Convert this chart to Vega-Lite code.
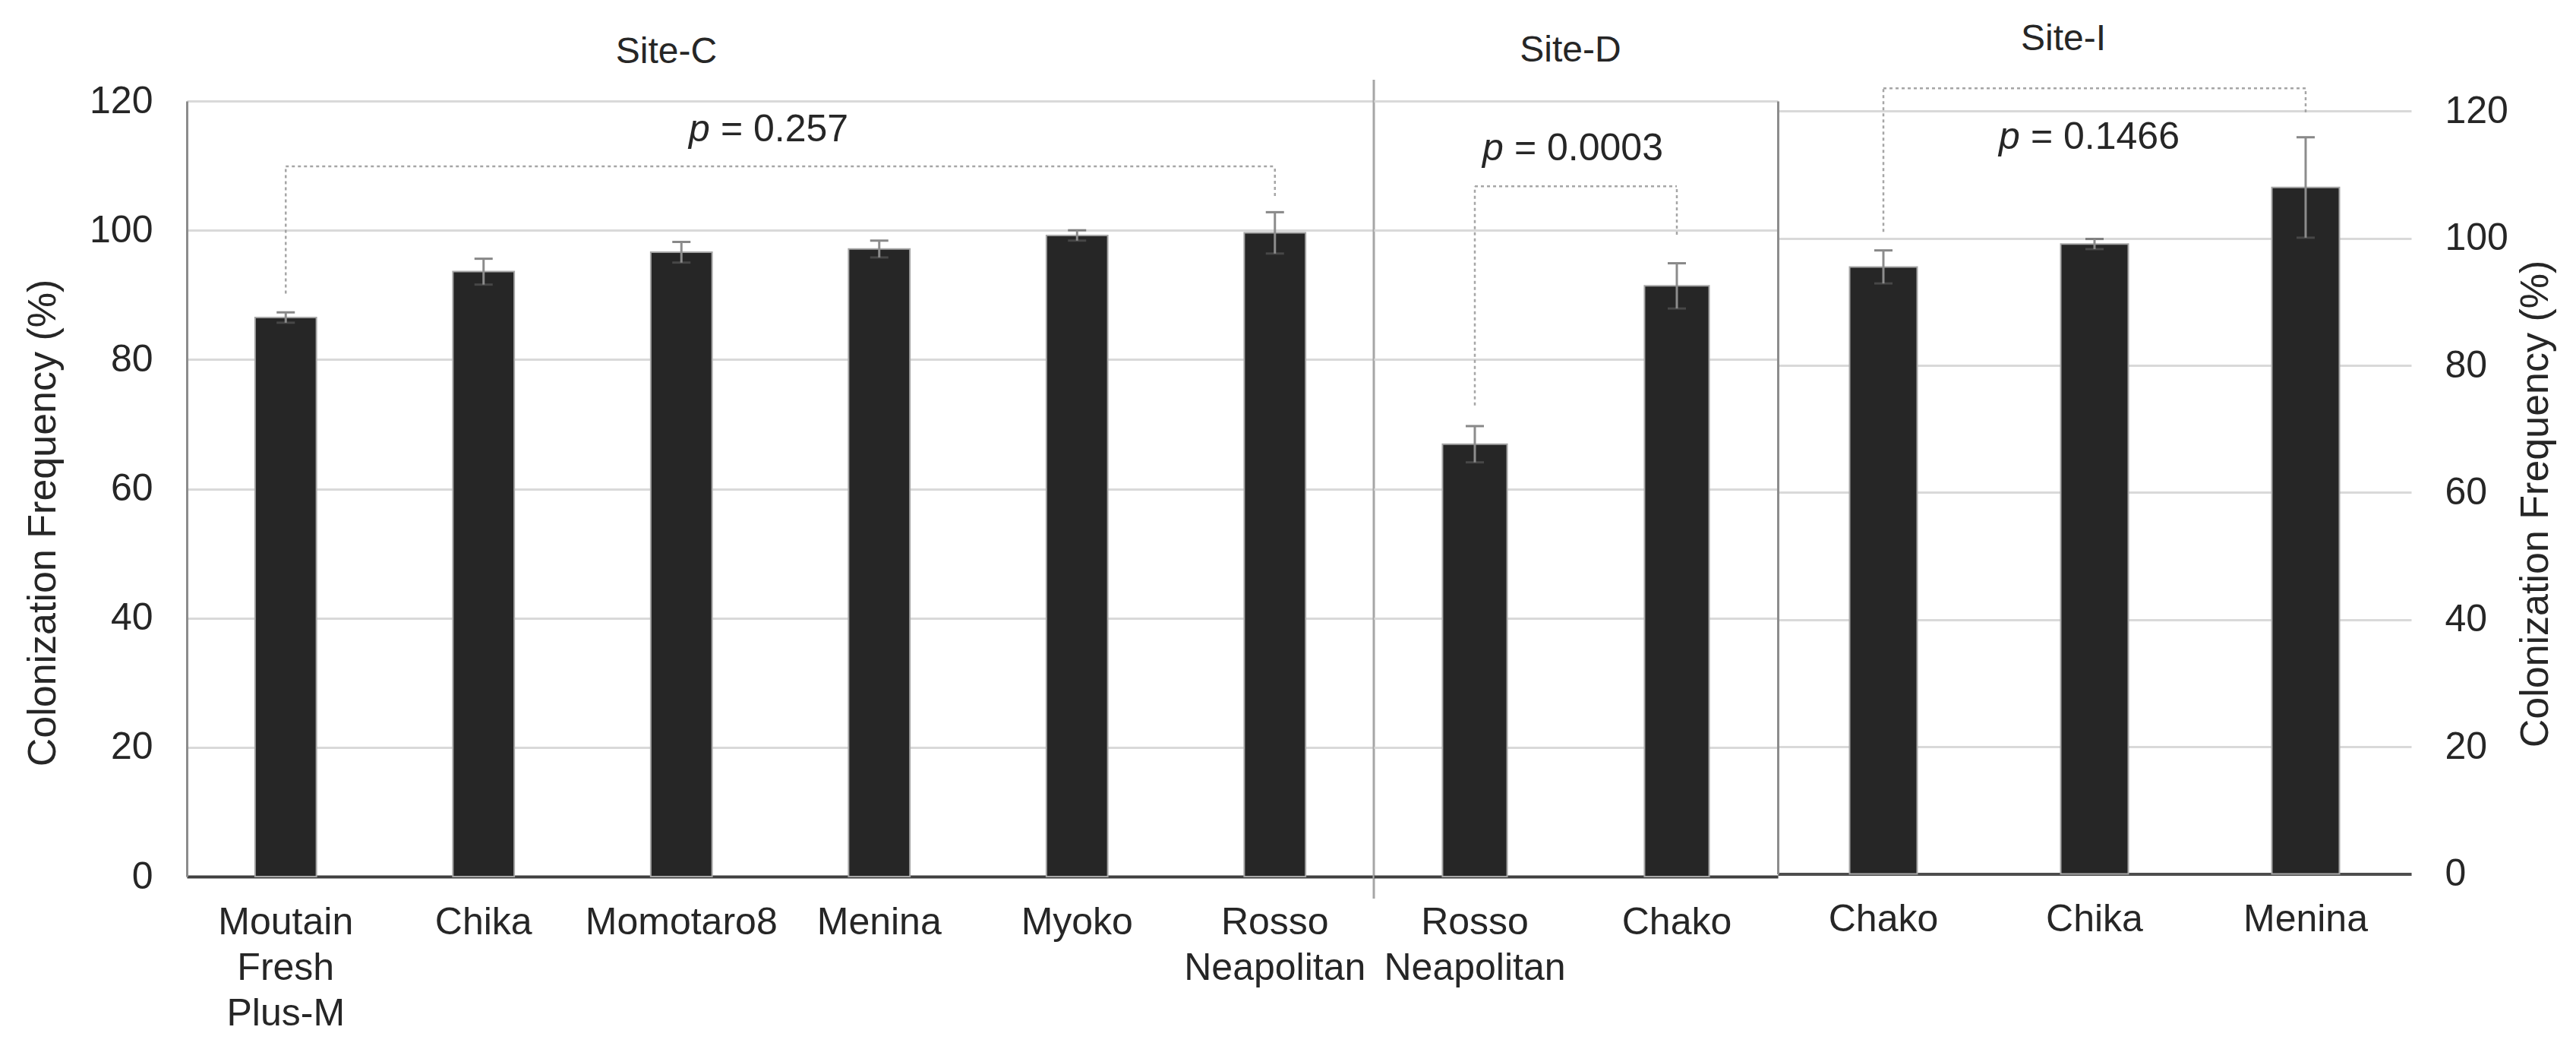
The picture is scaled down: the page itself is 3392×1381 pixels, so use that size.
{
  "$schema": "https://vega.github.io/schema/vega-lite/v6.json",
  "padding": {"left": 30, "top": 28, "right": 10, "bottom": 10},
  "background": "white",
  "datasets": {
    "siteC": [
      {"cultivar": "Moutain Fresh Plus-M", "mean": 86.5, "sd": 0.8},
      {"cultivar": "Chika", "mean": 93.6, "sd": 2.0},
      {"cultivar": "Momotaro8", "mean": 96.6, "sd": 1.6},
      {"cultivar": "Menina", "mean": 97.1, "sd": 1.3},
      {"cultivar": "Myoko", "mean": 99.2, "sd": 0.8},
      {"cultivar": "Rosso Neapolitan", "mean": 99.6, "sd": 3.2}
    ],
    "siteD": [
      {"cultivar": "Rosso Neapolitan", "mean": 66.9, "sd": 2.8},
      {"cultivar": "Chako", "mean": 91.4, "sd": 3.5}
    ],
    "siteI": [
      {"cultivar": "Chako", "mean": 95.5, "sd": 2.6},
      {"cultivar": "Chika", "mean": 99.1, "sd": 0.8},
      {"cultivar": "Menina", "mean": 108.0, "sd": 7.9}
    ]
  },
  "hconcat": [
    {
      "width": 1563,
      "height": 1021,
      "title": {"text": "Site-C", "dx": -150, "offset": -28, "baseline": "alphabetic", "fontSize": 48, "fontWeight": "normal", "color": "#262626", "font": "Liberation Sans"},
      "data": {"name": "siteC"},
      "layer": [
        {
          "mark": {"type": "bar", "color": "#262626", "stroke": "#a6a6a6", "strokeWidth": 2},
          "encoding": {
            "x": {"field": "cultivar", "type": "nominal", "sort": null,
              "scale": {"domain": ["Moutain Fresh Plus-M", "Chika", "Momotaro8", "Menina", "Myoko", "Rosso Neapolitan"], "paddingInner": 0.69, "paddingOuter": 0.345},
              "axis": {"title": null, "labelAngle": 0, "labelFontSize": 50, "labelFont": "Liberation Sans", "labelColor": "#262626", "labelPadding": 35, "labelLineHeight": 60, "labelLimit": 600, "ticks": false, "domainColor": "#404040", "domainWidth": 4, "labelExpr": "split(datum.value, ' ')"}},
            "y": {"field": "mean", "type": "quantitative", "title": "Colonization  Frequency (%)",
              "scale": {"domain": [0, 120], "nice": false},
              "axis": {"values": [0, 20, 40, 60, 80, 100, 120], "labelFontSize": 50, "labelFont": "Liberation Sans", "labelColor": "#262626", "labelPadding": 45, "ticks": false, "domainColor": "#8c8c8c", "domainWidth": 3, "gridColor": "#d9d9d9", "gridWidth": 3, "titleFontSize": 52, "titleFont": "Liberation Sans", "titleFontWeight": "normal", "titleColor": "#262626", "titleX": -190, "titleY": 555, "titleAngle": 270, "titleAlign": "center", "titleBaseline": "middle"}}
          }
        },
        {
          "mark": {"type": "errorbar", "ticks": {"size": 24, "thickness": 3, "color": "#555555"}, "rule": {"strokeWidth": 3, "color": "#8c8c8c"}},
          "encoding": {
            "x": {"field": "cultivar", "type": "nominal", "sort": null},
            "y": {"field": "mean", "type": "quantitative", "title": "Colonization  Frequency (%)"},
            "yError": {"field": "sd"}
          }
        },
        {
          "data": {"values": [{}]},
          "mark": {"type": "rule", "strokeDash": [4, 4], "color": "#a6a6a6", "strokeWidth": 2.5},
          "encoding": {"x": {"datum": "Moutain Fresh Plus-M", "type": "nominal"}, "y": {"datum": 90.2, "type": "quantitative"}, "y2": {"datum": 109.9}}
        },
        {
          "data": {"values": [{}]},
          "mark": {"type": "rule", "strokeDash": [4, 4], "color": "#a6a6a6", "strokeWidth": 2.5},
          "encoding": {"x": {"datum": "Moutain Fresh Plus-M", "type": "nominal"}, "x2": {"datum": "Rosso Neapolitan"}, "y": {"datum": 109.9, "type": "quantitative"}}
        },
        {
          "data": {"values": [{}]},
          "mark": {"type": "rule", "strokeDash": [4, 4], "color": "#a6a6a6", "strokeWidth": 2.5},
          "encoding": {"x": {"datum": "Rosso Neapolitan", "type": "nominal"}, "y": {"datum": 105.3, "type": "quantitative"}, "y2": {"datum": 109.9}}
        },
        {
          "data": {"values": [{}]},
          "mark": {"type": "text", "text": "p", "fontStyle": "italic", "align": "right", "baseline": "alphabetic", "fontSize": 50, "font": "Liberation Sans", "color": "#262626", "dx": -14},
          "encoding": {"x": {"datum": "Momotaro8", "type": "nominal", "bandPosition": 1.14}, "y": {"datum": 113.8, "type": "quantitative"}}
        },
        {
          "data": {"values": [{}]},
          "mark": {"type": "text", "text": "= 0.257", "align": "left", "baseline": "alphabetic", "fontSize": 50, "font": "Liberation Sans", "color": "#262626"},
          "encoding": {"x": {"datum": "Momotaro8", "type": "nominal", "bandPosition": 1.14}, "y": {"datum": 113.8, "type": "quantitative"}}
        },
        {
          "data": {"values": [{}]},
          "mark": {"type": "rule", "color": "#a6a6a6", "strokeWidth": 3},
          "encoding": {"x": {"value": "width"}, "y": {"datum": 123.3, "type": "quantitative"}, "y2": {"datum": -3.4}}
        }
      ]
    },
    {
      "width": 532,
      "height": 1021,
      "title": {"text": "Site-D", "dx": -7, "offset": 4, "baseline": "alphabetic", "fontSize": 48, "fontWeight": "normal", "color": "#262626", "font": "Liberation Sans"},
      "data": {"name": "siteD"},
      "layer": [
        {
          "mark": {"type": "bar", "color": "#262626", "stroke": "#a6a6a6", "strokeWidth": 2},
          "encoding": {
            "x": {"field": "cultivar", "type": "nominal", "sort": null,
              "scale": {"domain": ["Rosso Neapolitan", "Chako"], "paddingInner": 0.68, "paddingOuter": 0.34},
              "axis": {"title": null, "labelAngle": 0, "labelFontSize": 50, "labelFont": "Liberation Sans", "labelColor": "#262626", "labelPadding": 35, "labelLineHeight": 60, "labelLimit": 600, "ticks": false, "domainColor": "#404040", "domainWidth": 4, "labelExpr": "split(datum.value, ' ')"}},
            "y": {"field": "mean", "type": "quantitative", "title": null,
              "scale": {"domain": [0, 120], "nice": false},
              "axis": {"values": [0, 20, 40, 60, 80, 100, 120], "labels": false, "ticks": false, "domain": false, "gridColor": "#d9d9d9", "gridWidth": 3, "title": null}}
          }
        },
        {
          "mark": {"type": "errorbar", "ticks": {"size": 24, "thickness": 3, "color": "#555555"}, "rule": {"strokeWidth": 3, "color": "#8c8c8c"}},
          "encoding": {
            "x": {"field": "cultivar", "type": "nominal", "sort": null},
            "y": {"field": "mean", "type": "quantitative", "title": null},
            "yError": {"field": "sd"}
          }
        },
        {
          "data": {"values": [{}]},
          "mark": {"type": "rule", "strokeDash": [4, 4], "color": "#a6a6a6", "strokeWidth": 2.5},
          "encoding": {"x": {"datum": "Rosso Neapolitan", "type": "nominal"}, "y": {"datum": 72.9, "type": "quantitative"}, "y2": {"datum": 106.8}}
        },
        {
          "data": {"values": [{}]},
          "mark": {"type": "rule", "strokeDash": [4, 4], "color": "#a6a6a6", "strokeWidth": 2.5},
          "encoding": {"x": {"datum": "Rosso Neapolitan", "type": "nominal"}, "x2": {"datum": "Chako"}, "y": {"datum": 106.8, "type": "quantitative"}}
        },
        {
          "data": {"values": [{}]},
          "mark": {"type": "rule", "strokeDash": [4, 4], "color": "#a6a6a6", "strokeWidth": 2.5},
          "encoding": {"x": {"datum": "Chako", "type": "nominal"}, "y": {"datum": 99.3, "type": "quantitative"}, "y2": {"datum": 106.8}}
        },
        {
          "data": {"values": [{}]},
          "mark": {"type": "text", "text": "p", "fontStyle": "italic", "align": "right", "baseline": "alphabetic", "fontSize": 50, "font": "Liberation Sans", "color": "#262626", "dx": -14},
          "encoding": {"x": {"datum": "Rosso Neapolitan", "type": "nominal", "bandPosition": 1.11}, "y": {"datum": 110.8, "type": "quantitative"}}
        },
        {
          "data": {"values": [{}]},
          "mark": {"type": "text", "text": "= 0.0003", "align": "left", "baseline": "alphabetic", "fontSize": 50, "font": "Liberation Sans", "color": "#262626"},
          "encoding": {"x": {"datum": "Rosso Neapolitan", "type": "nominal", "bandPosition": 1.11}, "y": {"datum": 110.8, "type": "quantitative"}}
        }
      ]
    },
    {
      "width": 834,
      "height": 1017.5,
      "title": {"text": "Site-I", "dx": -41, "offset": 1, "baseline": "alphabetic", "fontSize": 48, "fontWeight": "normal", "color": "#262626", "font": "Liberation Sans"},
      "data": {"name": "siteI"},
      "resolve": {"scale": {"y": "independent"}},
      "layer": [
        {
          "layer": [
            {
              "mark": {"type": "bar", "color": "#262626", "stroke": "#a6a6a6", "strokeWidth": 2},
              "encoding": {
                "x": {"field": "cultivar", "type": "nominal", "sort": null,
                  "scale": {"domain": ["Chako", "Chika", "Menina"], "paddingInner": 0.68, "paddingOuter": 0.34},
                  "axis": {"title": null, "labelAngle": 0, "labelFontSize": 50, "labelFont": "Liberation Sans", "labelColor": "#262626", "labelPadding": 35, "labelLineHeight": 60, "labelLimit": 600, "ticks": false, "domainColor": "#4d4d4d", "domainWidth": 4, "labelExpr": "split(datum.value, ' ')"}},
                "y": {"field": "mean", "type": "quantitative", "title": "Colonization  Frequency (%)",
                  "scale": {"domain": [0, 121.6], "nice": false},
                  "axis": {"orient": "right", "values": [0, 20, 40, 60, 80, 100, 120], "labelFontSize": 50, "labelFont": "Liberation Sans", "labelColor": "#262626", "labelPadding": 44, "ticks": false, "domain": false, "gridColor": "#d9d9d9", "gridWidth": 3, "titleFontSize": 52, "titleFont": "Liberation Sans", "titleFontWeight": "normal", "titleColor": "#262626", "titleX": 163, "titleY": 530, "titleAngle": 270, "titleAlign": "center", "titleBaseline": "middle"}}
              }
            },
            {
              "data": {"values": [{}]},
              "mark": {"type": "rule", "strokeDash": [4, 4], "color": "#a6a6a6", "strokeWidth": 2.5},
              "encoding": {"x": {"datum": "Chako", "type": "nominal"}, "y": {"datum": 101.0, "type": "quantitative"}, "y2": {"datum": 123.6}}
            },
            {
              "data": {"values": [{}]},
              "mark": {"type": "rule", "strokeDash": [4, 4], "color": "#a6a6a6", "strokeWidth": 2.5},
              "encoding": {"x": {"datum": "Chako", "type": "nominal"}, "x2": {"datum": "Menina"}, "y": {"datum": 123.6, "type": "quantitative"}}
            },
            {
              "data": {"values": [{}]},
              "mark": {"type": "rule", "strokeDash": [4, 4], "color": "#a6a6a6", "strokeWidth": 2.5},
              "encoding": {"x": {"datum": "Menina", "type": "nominal"}, "y": {"datum": 119.8, "type": "quantitative"}, "y2": {"datum": 123.6}}
            },
            {
              "data": {"values": [{}]},
              "mark": {"type": "text", "text": "p", "fontStyle": "italic", "align": "right", "baseline": "alphabetic", "fontSize": 50, "font": "Liberation Sans", "color": "#262626", "dx": -14},
              "encoding": {"x": {"datum": "Chako", "type": "nominal", "bandPosition": 2.68}, "y": {"datum": 114.1, "type": "quantitative"}}
            },
            {
              "data": {"values": [{}]},
              "mark": {"type": "text", "text": "= 0.1466", "align": "left", "baseline": "alphabetic", "fontSize": 50, "font": "Liberation Sans", "color": "#262626"},
              "encoding": {"x": {"datum": "Chako", "type": "nominal", "bandPosition": 2.68}, "y": {"datum": 114.1, "type": "quantitative"}}
            }
          ]
        },
        {
          "mark": {"type": "errorbar", "ticks": {"size": 24, "thickness": 3, "color": "#555555"}, "rule": {"strokeWidth": 3, "color": "#8c8c8c"}},
          "encoding": {
            "x": {"field": "cultivar", "type": "nominal", "sort": null},
            "y": {"field": "mean", "type": "quantitative", "title": null, "scale": {"domain": [0, 121.6], "nice": false},
              "axis": {"orient": "left", "labels": false, "ticks": false, "grid": false, "title": null, "domainColor": "#8c8c8c", "domainWidth": 3}},
            "yError": {"field": "sd"}
          }
        }
      ]
    }
  ],
  "spacing": 0,
  "bounds": "flush",
  "resolve": {"scale": {"x": "independent", "y": "independent"}},
  "config": {"view": {"stroke": null}, "font": "Liberation Sans"}
}
